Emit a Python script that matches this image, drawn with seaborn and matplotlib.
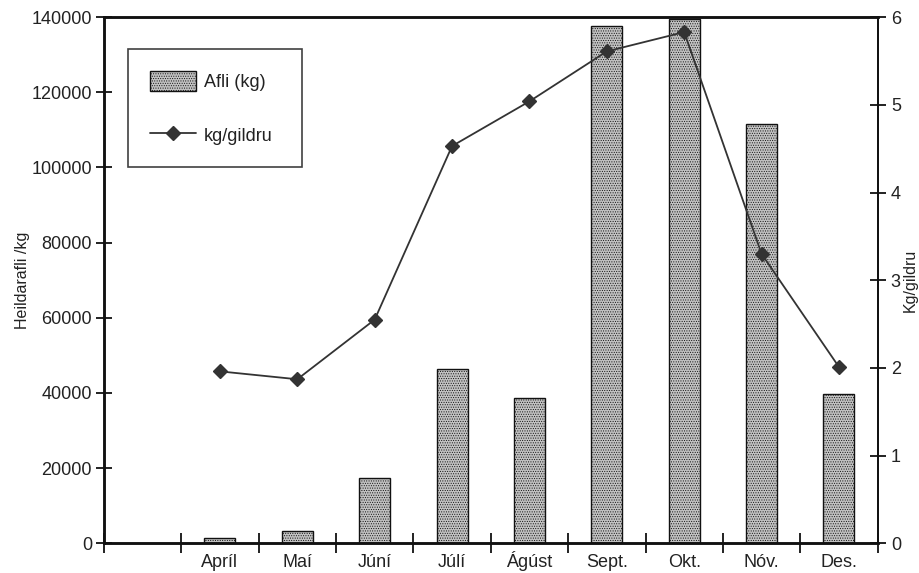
import matplotlib
matplotlib.use('Agg')
import matplotlib.pyplot as plt
import seaborn as sns
import pandas as pd
from matplotlib.patches import Patch
from matplotlib.lines import Line2D

# Data (first slot on the x axis is empty)
months = ['', 'Apríl', 'Maí', 'Júní', 'Júlí', 'Ágúst', 'Sept.', 'Okt.', 'Nóv.', 'Des.']
afli_kg = [1300, 3300, 17400, 46300, 38600, 137600, 139600, 111700, 39600]
kg_per_gildra = [1.96, 1.87, 2.55, 4.53, 5.04, 5.61, 5.83, 3.30, 2.01]

df = pd.DataFrame({'Mánuður': months[1:], 'Afli': afli_kg, 'kg/gildru': kg_per_gildra})

sns.set_style('white')
plt.rcParams['font.family'] = ['Liberation Sans', 'DejaVu Sans']
plt.rcParams['hatch.linewidth'] = 0.45
text_col = '#222222'
line_col = '#333333'
bar_col = '#c2c2c2'

fig = plt.figure(figsize=(9.19, 5.73), dpi=100)
ax = fig.add_axes([0.113, 0.052, 0.842, 0.918])

### Bars: total catch
sns.barplot(data=df, x='Mánuður', y='Afli', order=months, width=0.4,
            color=bar_col, edgecolor='#111111', linewidth=1.0,
            hatch='.......', ax=ax)

### Line: kg per trap on the right axis
ax2 = ax.twinx()
sns.pointplot(data=df, x='Mánuður', y='kg/gildru', order=months,
              color=line_col, markers='D', markersize=7, linewidth=1.3,
              errorbar=None, ax=ax2)

# Axes limits and ticks
ax.set_xlim(-0.5, len(months) - 0.5)
ax.set_ylim(0, 140000)
ax2.set_ylim(0, 6)
ax.set_yticks(range(0, 140001, 20000))
ax2.set_yticks(range(0, 7))

# Category boundaries as major ticks, labels on minor ticks at centres
ax.set_xticks([i - 0.5 for i in range(len(months) + 1)])
ax.set_xticklabels([])
ax.set_xticks(range(len(months)), minor=True)
ax.set_xticklabels(months, minor=True, va='baseline')
ax.tick_params(axis='x', which='major', direction='inout', length=15,
               width=1.3, color='#111111', bottom=True)
ax.tick_params(axis='x', which='minor', length=0, pad=17, labelsize=13,
               labelcolor=text_col)
ax.tick_params(axis='y', direction='inout', length=11, width=1.3,
               color='#111111', left=True, labelsize=13, labelcolor=text_col, pad=3)
ax2.tick_params(axis='y', direction='inout', length=11, width=1.3,
                color='#111111', right=True, labelsize=13, labelcolor=text_col, pad=4)
ax2.set_xlim(-0.5, len(months) - 0.5)

ax.set_xlabel('')
ax.set_ylabel('Heildarafli /kg', fontsize=11.5, color=text_col, labelpad=1)
ax2.set_ylabel('Kg/gildru', fontsize=11.5, color=text_col, labelpad=1)

for a in (ax, ax2):
    for side in ['left', 'top', 'bottom']:
        a.spines[side].set_visible(True)
        a.spines[side].set_color('#111111')
        a.spines[side].set_linewidth(1.8)
    a.spines['right'].set_color('#111111')
    a.spines['right'].set_linewidth(1.3)

# Legend box
handles = [
    Patch(facecolor=bar_col, edgecolor='#111111', hatch='.......', linewidth=1.0,
          label='Afli (kg)'),
    Line2D([], [], color=line_col, marker='D', markersize=7, linewidth=1.3,
           label='kg/gildru'),
]
leg = ax2.legend(handles=handles, loc='upper left', bbox_to_anchor=(0.031, 0, 0.225, 0.939),
                 mode='expand', borderaxespad=0, frameon=True, fancybox=False,
                 edgecolor='#111111', fontsize=13, labelspacing=1.9,
                 handlelength=2.6, handleheight=1.3, handletextpad=0.4,
                 borderpad=1.2)
leg.get_frame().set_linewidth(1.2)
for t in leg.get_texts():
    t.set_color(text_col)

plt.savefig('out.png', dpi=100)
plt.close()
